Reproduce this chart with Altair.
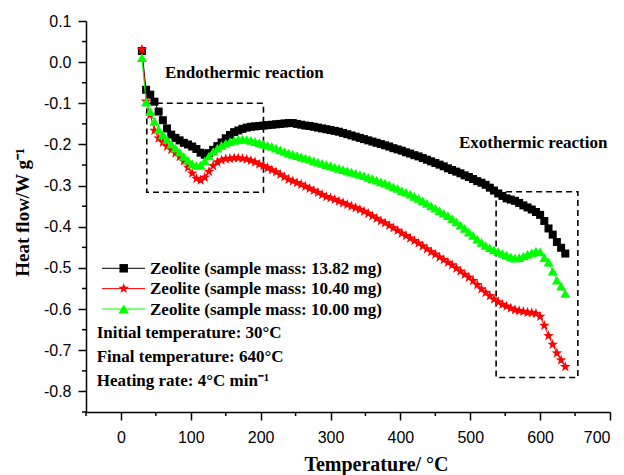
import altair as alt
import pandas as pd

# ---------------- data ----------------
temps = [30, 36, 42, 48, 54, 60, 66, 72, 78, 84,
         90, 96, 102, 108, 114, 120, 126, 132, 138, 144,
         150, 156, 162, 168, 174, 180, 186, 192, 198, 204,
         210, 216, 222, 228, 234, 240, 246, 252, 258, 264,
         270, 276, 282, 288, 294, 300, 306, 312, 318, 324,
         330, 336, 342, 348, 354, 360, 366, 372, 378, 384,
         390, 396, 402, 408, 414, 420, 426, 432, 438, 444,
         450, 456, 462, 468, 474, 480, 486, 492, 498, 504,
         510, 516, 522, 528, 534, 540, 546, 552, 558, 564,
         570, 576, 582, 588, 594, 600, 606, 612, 618, 624,
         630, 636]

black_flow = [0.027, -0.067, -0.079, -0.096, -0.120, -0.141, -0.161, -0.176, -0.184, -0.190,
              -0.196, -0.200, -0.205, -0.211, -0.220, -0.225, -0.221, -0.213, -0.204, -0.195,
              -0.185, -0.177, -0.170, -0.166, -0.162, -0.159, -0.157, -0.156, -0.155, -0.154,
              -0.153, -0.152, -0.151, -0.150, -0.149, -0.148, -0.148, -0.150, -0.152, -0.154,
              -0.155, -0.157, -0.159, -0.161, -0.163, -0.165, -0.167, -0.169, -0.172, -0.175,
              -0.178, -0.181, -0.184, -0.187, -0.190, -0.193, -0.196, -0.199, -0.202, -0.205,
              -0.209, -0.212, -0.215, -0.219, -0.222, -0.226, -0.229, -0.233, -0.237, -0.241,
              -0.245, -0.249, -0.253, -0.258, -0.262, -0.266, -0.270, -0.275, -0.279, -0.284,
              -0.289, -0.293, -0.298, -0.305, -0.312, -0.319, -0.325, -0.331, -0.334, -0.337,
              -0.342, -0.348, -0.353, -0.358, -0.364, -0.371, -0.386, -0.404, -0.419, -0.437,
              -0.451, -0.465]

red_flow = [0.031, -0.095, -0.128, -0.166, -0.185, -0.195, -0.205, -0.213, -0.221, -0.230,
            -0.241, -0.256, -0.270, -0.283, -0.287, -0.280, -0.266, -0.252, -0.243, -0.238,
            -0.235, -0.234, -0.233, -0.233, -0.234, -0.236, -0.239, -0.243, -0.248, -0.252,
            -0.257, -0.262, -0.267, -0.273, -0.279, -0.285, -0.289, -0.293, -0.297, -0.302,
            -0.307, -0.312, -0.317, -0.322, -0.327, -0.330, -0.334, -0.338, -0.342, -0.346,
            -0.350, -0.354, -0.358, -0.363, -0.368, -0.374, -0.380, -0.386, -0.391, -0.397,
            -0.403, -0.409, -0.416, -0.422, -0.428, -0.434, -0.440, -0.447, -0.454, -0.461,
            -0.467, -0.474, -0.480, -0.487, -0.493, -0.501, -0.508, -0.516, -0.523, -0.531,
            -0.541, -0.551, -0.560, -0.568, -0.576, -0.583, -0.589, -0.593, -0.598, -0.602,
            -0.604, -0.606, -0.608, -0.609, -0.611, -0.618, -0.640, -0.665, -0.686, -0.707,
            -0.724, -0.740]

green_flow = [0.011, -0.097, -0.120, -0.144, -0.164, -0.176, -0.188, -0.199, -0.209, -0.219,
              -0.229, -0.238, -0.247, -0.251, -0.250, -0.240, -0.228, -0.217, -0.209, -0.202,
              -0.197, -0.193, -0.190, -0.188, -0.187, -0.188, -0.190, -0.193, -0.196, -0.199,
              -0.202, -0.205, -0.209, -0.213, -0.217, -0.221, -0.224, -0.227, -0.230, -0.233,
              -0.236, -0.240, -0.243, -0.246, -0.249, -0.252, -0.255, -0.258, -0.261, -0.264,
              -0.267, -0.270, -0.273, -0.276, -0.280, -0.283, -0.287, -0.291, -0.294, -0.298,
              -0.303, -0.307, -0.312, -0.316, -0.321, -0.326, -0.331, -0.337, -0.343, -0.349,
              -0.355, -0.361, -0.367, -0.373, -0.380, -0.388, -0.396, -0.404, -0.413, -0.421,
              -0.430, -0.438, -0.445, -0.451, -0.456, -0.460, -0.465, -0.469, -0.473, -0.476,
              -0.475, -0.471, -0.467, -0.463, -0.459, -0.461, -0.475, -0.486, -0.508, -0.530,
              -0.544, -0.562]

series_names = ["Zeolite (sample mass: 13.82 mg)",
                "Zeolite (sample mass: 10.40 mg)",
                "Zeolite (sample mass: 10.00 mg)"]
series_values = [black_flow, red_flow, green_flow]
series_colors = ["#000000", "#ff0000", "#00ff00"]

STAR = ("M0,-1L0.235,-0.324L0.951,-0.309L0.380,0.124L0.588,0.809L0,0.4"
        "L-0.588,0.809L-0.380,0.124L-0.951,-0.309L-0.235,-0.324Z")
series_shapes = ["square", STAR, "triangle-up"]
series_sizes = [64, 125, 100]
legend_sizes = [72, 125, 110]

info_lines = ["Initial temperature: 30°C",
              "Final temperature: 640°C",
              "Heating rate: 4°C min⁻¹"]

x_major = [0, 100, 200, 300, 400, 500, 600, 700]
x_minor = [-50, 50, 150, 250, 350, 450, 550, 650]
y_major = [-0.8, -0.7, -0.6, -0.5, -0.4, -0.3, -0.2, -0.1, 0.0, 0.1]
y_minor = [-0.85, -0.75, -0.65, -0.55, -0.45, -0.35, -0.25, -0.15, -0.05, 0.05]

box_x1 = [37, 537]
box_x2 = [204, 654]
box_y1 = [-0.100, -0.315]
box_y2 = [-0.316, -0.766]

# ---------------- layout ----------------
W, H = 524, 391
SERIF = "Liberation Serif"
SANS = "Liberation Sans"

xs = alt.Scale(domain=[-50, 700], nice=False, zero=False)
ys = alt.Scale(domain=[-0.85, 0.1], nice=False, zero=False)

xaxis = alt.Axis(values=x_major, format="d", tickSize=8, tickWidth=1.5,
                 domainWidth=1.5, labelPadding=9, grid=False,
                 title="Temperature/ °C", titlePadding=9, titleFontSize=20,
                 titleX=290)
yaxis = alt.Axis(values=y_major,
                 labelExpr="replace(format(datum.value, '.1f'), '\u2212', '-')",
                 tickSize=8, tickWidth=1.5, domainWidth=1.5, labelPadding=7,
                 grid=False, title="Heat flow/W g⁻¹", titlePadding=11,
                 titleFontSize=19, titleY=191)


def X(field):
    return alt.X(field, scale=xs, axis=xaxis)


def Y(field):
    return alt.Y(field, scale=ys, axis=yaxis)


layers = []

# dashed boxes
boxes = pd.DataFrame({"x1": box_x1, "x2": box_x2, "y1": box_y1, "y2": box_y2})
layers.append(
    alt.Chart(boxes).mark_rect(filled=False, stroke="black", strokeWidth=1.6,
                               strokeDash=[6, 4], fillOpacity=0)
    .encode(x=X("x1:Q"), x2="x2:Q", y=Y("y1:Q"), y2="y2:Q")
)

# series
for name, vals, col, shp, sz in zip(series_names, series_values, series_colors,
                                     series_shapes, series_sizes):
    df = pd.DataFrame({"T": temps, "flow": vals, "series": name})
    layers.append(
        alt.Chart(df).mark_line(color=col, strokeWidth=1)
        .encode(x=X("T:Q"), y=Y("flow:Q"))
    )
    layers.append(
        alt.Chart(df).mark_point(shape=shp, filled=True, size=sz, color=col,
                                 opacity=1, strokeWidth=0)
        .encode(x=X("T:Q"), y=Y("flow:Q"))
    )

# minor ticks
layers.append(
    alt.Chart(pd.DataFrame({"v": x_minor})).mark_rule(color="black", strokeWidth=1.5)
    .encode(x=X("v:Q"), y=alt.value(H), y2=alt.value(H + 4))
)
layers.append(
    alt.Chart(pd.DataFrame({"v": y_minor})).mark_rule(color="black", strokeWidth=1.5)
    .encode(y=Y("v:Q"), x=alt.value(-4), x2=alt.value(0))
)


def text_layer(s, x, y, size=17):
    return (alt.Chart(alt.Data(values=[{}]))
            .mark_text(text=s, align="left", baseline="alphabetic", font=SERIF,
                       fontWeight="bold", fontSize=size, color="black")
            .encode(x=alt.value(x), y=alt.value(y)))


# annotations
layers.append(text_layer("Endothermic reaction", 79, 56.5))
layers.append(text_layer("Exothermic reaction", 373, 126.5))

# legend (drawn by hand)
leg_line_y = [247.3, 267.6, 288.0]
for i, (name, col, shp, sz) in enumerate(zip(series_names, series_colors,
                                             series_shapes, legend_sizes)):
    yy = leg_line_y[i]
    layers.append(
        alt.Chart(alt.Data(values=[{}])).mark_rule(color=col, strokeWidth=1)
        .encode(x=alt.value(16), x2=alt.value(59), y=alt.value(yy))
    )
    layers.append(
        alt.Chart(alt.Data(values=[{}])).mark_point(shape=shp, filled=True, size=sz,
                                                   color=col, opacity=1, strokeWidth=0)
        .encode(x=alt.value(37.7), y=alt.value(yy))
    )
    layers.append(text_layer(name, 64, yy + 5.5))

for i, line in enumerate(info_lines):
    layers.append(text_layer(line, 10.7, 316.7 + 24 * i))

chart = (
    alt.layer(*layers)
    .properties(width=W, height=H, autosize="none",
                padding={"left": 86, "top": 21, "right": 14, "bottom": 63},
                background="white")
    .configure_axis(labelFont=SANS, labelFontSize=16, labelColor="black",
                    titleFont=SERIF, titleFontWeight="bold",
                    titleColor="black", domainColor="black", tickColor="black")
    .configure_view(stroke=None)
)

chart.save("out.html", embed_options={"renderer": "svg", "actions": False})
